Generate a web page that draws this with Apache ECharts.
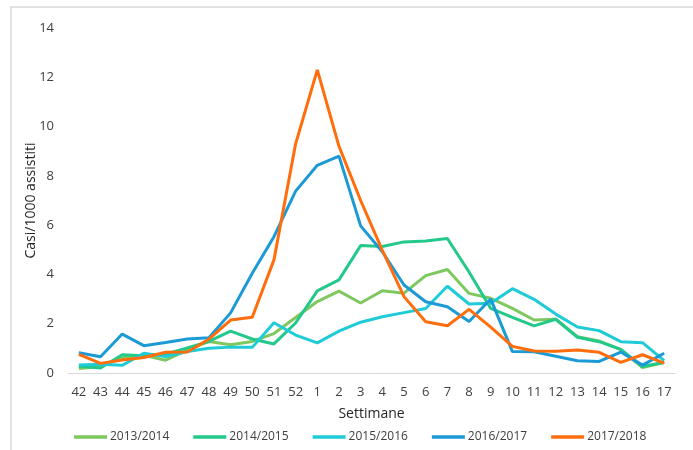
<!DOCTYPE html>
<html><head><meta charset="utf-8">
<script src="https://cdn.jsdelivr.net/npm/echarts@6/dist/echarts.min.js"></script>
<style>html,body{margin:0;padding:0;background:#fff}#c{width:693px;height:450px}</style>
</head><body><div id="c"></div>
<script>
const weeks = ['42','43','44','45','46','47','48','49','50','51','52','1','2','3','4','5','6','7','8','9','10','11','12','13','14','15','16','17'];
const s1314 = [0.18,0.26,0.62,0.72,0.52,0.93,1.28,1.15,1.28,1.6,2.25,2.9,3.32,2.84,3.34,3.24,3.95,4.2,3.23,3.03,2.62,2.15,2.18,1.47,1.3,0.95,0.22,0.42];
const s1415 = [0.27,0.2,0.74,0.7,0.76,1.02,1.28,1.7,1.38,1.18,2.03,3.33,3.78,5.17,5.13,5.32,5.36,5.46,4.1,2.62,2.26,1.91,2.18,1.45,1.27,0.96,0.26,0.44];
const s1516 = [0.32,0.36,0.31,0.8,0.67,0.87,1.0,1.05,1.04,2.04,1.54,1.22,1.7,2.06,2.28,2.45,2.62,3.52,2.8,2.83,3.42,2.99,2.39,1.87,1.72,1.27,1.23,0.5];
const s1617 = [0.82,0.66,1.58,1.11,1.24,1.38,1.43,2.44,4.05,5.53,7.38,8.43,8.8,5.97,4.92,3.57,2.89,2.69,2.09,3.0,0.87,0.86,0.68,0.5,0.47,0.85,0.32,0.8];
const s1718 = [0.76,0.39,0.53,0.63,0.84,0.85,1.37,2.15,2.26,4.59,9.3,12.3,9.2,7.0,4.98,3.1,2.08,1.92,2.58,1.86,1.08,0.89,0.88,0.93,0.84,0.43,0.74,0.4];
const seriesNames = ['2013/2014','2014/2015','2015/2016','2016/2017','2017/2018'];
const colors = ['#7ec85f','#22c98b','#1ecbd7','#1b9ad6','#ff6d0c'];
const yTicks = {min:0, max:14, interval:2};

const dataSets = [s1314,s1415,s1516,s1617,s1718];
const font = '"Open Sans", "Noto Sans", sans-serif';
const chart = echarts.init(document.getElementById('c'), null, {renderer:'canvas'});
chart.setOption({
  animation:false,
  backgroundColor:'#fff',
  color: colors,
  textStyle:{fontFamily:font},
  graphic:[{type:'rect', shape:{x:11,y:7,width:700,height:460}, style:{fill:'none', stroke:'#d9d9d9', lineWidth:1.5}, silent:true}],
  grid:{left:68, right:18, top:28, bottom:77},
  legend:{
    data: seriesNames, bottom:2, left:69, icon:'rect', itemWidth:33, itemHeight:3.5, itemGap:24,
    textStyle:{fontFamily:font, fontSize:12, color:'#404040', padding:[0,0,0,-2]}
  },
  xAxis:{
    type:'category', data:weeks, boundaryGap:true,
    name:'Settimane', nameLocation:'middle', nameGap:34,
    nameTextStyle:{fontFamily:font, fontSize:14, color:'#262626'},
    axisLine:{lineStyle:{color:'#d9d9d9', width:1}},
    axisTick:{show:false},
    axisLabel:{interval:0, margin:13, fontSize:13, color:'#404040', fontFamily:font}
  },
  yAxis:{
    type:'value', min:yTicks.min, max:yTicks.max, interval:yTicks.interval,
    name:'Casi/1000 assistiti', nameLocation:'middle', nameGap:30, nameMoveOverlap:false,
    nameTextStyle:{fontFamily:font, fontSize:14, color:'#262626'},
    axisLine:{show:false}, axisTick:{show:false}, splitLine:{show:false},
    axisLabel:{margin:14, fontSize:13, color:'#404040', fontFamily:font}
  },
  series: seriesNames.map((n,i)=>({
    name:n, type:'line', data:dataSets[i], symbol:'none', smooth:false,
    lineStyle:{width:3, color:colors[i]}, itemStyle:{color:colors[i]}
  }))
});
</script></body></html>
